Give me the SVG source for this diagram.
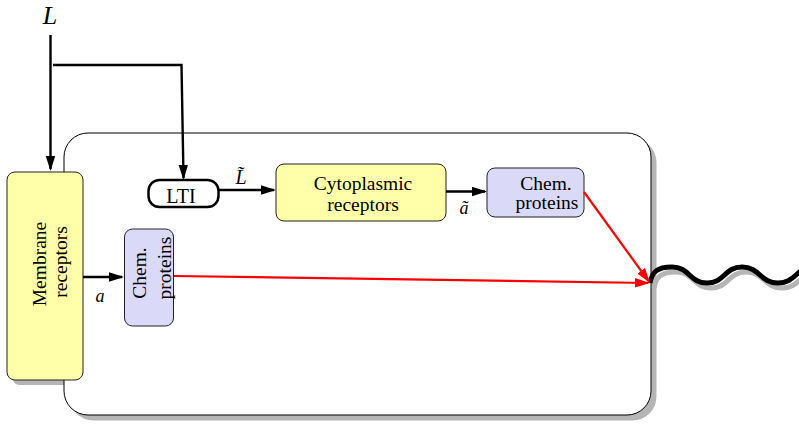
<svg xmlns="http://www.w3.org/2000/svg" width="799" height="426" viewBox="0 0 799 426">
<style>
  .txt { font-family: "Liberation Serif", "Times New Roman", serif; font-size: 19.5px; fill: #000; text-anchor: middle; }
  .math { font-family: "Liberation Serif", "Times New Roman", serif; font-style: italic; fill: #000; text-anchor: middle; }
  .shadow { fill: #b5b5b5; stroke: none; }
  .yellow { fill: #ffffaa; stroke: #222; stroke-width: 1; }
  .blue { fill: #dadaf8; stroke: #222; stroke-width: 1; }
  .blk { fill: none; stroke: #000; stroke-width: 2.4; }
  .red { fill: none; stroke: #ff0000; stroke-width: 2.2; }
</style>
<defs>
  <marker id="ah" viewBox="0 0 15 10" refX="13" refY="5" markerWidth="15" markerHeight="10" markerUnits="userSpaceOnUse" orient="auto">
    <path d="M0,0.3 L15,5 L0,9.7 z" fill="#000"/>
  </marker>
  <marker id="ahr" viewBox="0 0 15 10" refX="13" refY="5" markerWidth="15" markerHeight="10" markerUnits="userSpaceOnUse" orient="auto">
    <path d="M0,0.3 L15,5 L0,9.7 z" fill="#ff0000"/>
  </marker>
</defs>
<rect width="799" height="426" fill="#fff"/>

<!-- shadows -->
<rect class="shadow" x="12" y="177" width="76" height="208" rx="8"/>
<rect class="shadow" x="69.5" y="138.5" width="587" height="282" rx="24"/>

<g id="cell">
  <rect x="64" y="133" width="587" height="282" rx="24" fill="#fff" stroke="#000" stroke-width="1"/>
</g>

<g id="output">
  <path d="M654,288 C656,277 661,272 676,272 C694,272 693,288 711,288 C729,288 728,272 746,272 C764,272 764,288 782,288 C800,288 800,272 818,272" fill="none" stroke="#b5b5b5" stroke-width="5"/>
  <path d="M650,283 C652,272 657,267 672,267 C690,267 689,283 707,283 C725,283 724,267 742,267 C760,267 760,283 778,283 C796,283 796,267 814,267" fill="none" stroke="#000" stroke-width="5"/>
</g>

<g id="membrane">
  <rect class="yellow" x="7" y="172" width="76" height="208" rx="8"/>
  <text class="txt" transform="translate(46,264) rotate(-90)">Membrane</text>
  <text class="txt" transform="translate(67,262) rotate(-90)">receptors</text>
</g>

<g id="chem1">
  <rect class="blue" x="124.5" y="229" width="49" height="97" rx="8"/>
  <text class="txt" transform="translate(146,273) rotate(-90)">Chem.</text>
  <text class="txt" transform="translate(171,268) rotate(-90)">proteins</text>
</g>

<g id="lti">
  <rect x="148.5" y="180" width="70" height="27" rx="11" fill="#fff" stroke="#000" stroke-width="2.5"/>
  <text class="txt" x="181" y="203" style="font-size:20px">LTI</text>
</g>

<g id="cyto">
  <rect class="yellow" x="276" y="164" width="170" height="57" rx="8"/>
  <text class="txt" x="363" y="190">Cytoplasmic</text>
  <text class="txt" x="363" y="211">receptors</text>
</g>

<g id="chem2">
  <rect class="blue" x="487" y="168" width="97" height="49" rx="8"/>
  <text class="txt" x="546" y="190">Chem.</text>
  <text class="txt" x="547" y="209">proteins</text>
</g>

<g id="labels">
  <text class="math" x="50" y="23.5" style="font-size:26px">L</text>
  <text class="math" x="241" y="184" style="font-size:20px">L̃</text>
  <text class="math" x="464" y="214" style="font-size:18px">ã</text>
  <text class="math" x="100" y="302" style="font-size:18px">a</text>
</g>

<g id="connectors">
  <line class="blk" x1="50.5" y1="35" x2="50.5" y2="169" marker-end="url(#ah)"/>
  <polyline class="blk" points="53,65 181.5,65 183.5,178" marker-end="url(#ah)"/>
  <line class="blk" x1="219" y1="190" x2="274" y2="190" marker-end="url(#ah)"/>
  <line class="blk" x1="446" y1="191.5" x2="485" y2="191.5" marker-end="url(#ah)"/>
  <line class="blk" x1="83" y1="277" x2="122" y2="277" marker-end="url(#ah)"/>
  <line class="red" x1="174" y1="276" x2="648" y2="283" marker-end="url(#ahr)"/>
  <line class="red" x1="584" y1="192" x2="648.8" y2="281.4" marker-end="url(#ahr)"/>
</g>
</svg>
